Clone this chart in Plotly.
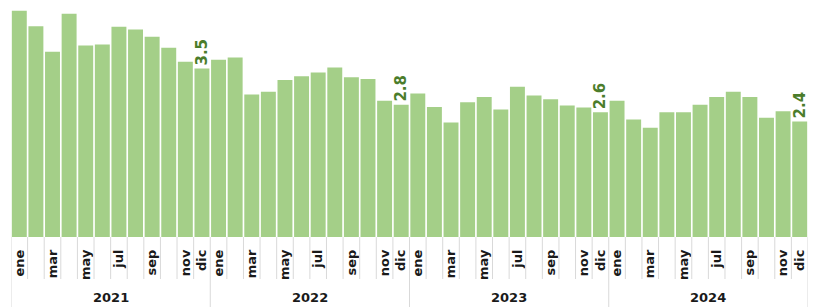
import plotly.graph_objects as go

years = ["2021", "2022", "2023", "2024"]
months = ["ene", "feb", "mar", "abr", "may", "jun", "jul", "ago", "sep", "oct", "nov", "dic"]
shown_months = ["ene", "mar", "may", "jul", "sep", "nov", "dic"]

values_2021 = [4.70, 4.38, 3.85, 4.64, 3.98, 4.00, 4.37, 4.31, 4.16, 3.93, 3.64, 3.50]
values_2022 = [3.68, 3.73, 2.96, 3.02, 3.26, 3.34, 3.42, 3.52, 3.32, 3.28, 2.83, 2.75]
values_2023 = [2.98, 2.70, 2.38, 2.80, 2.91, 2.65, 3.12, 2.94, 2.86, 2.73, 2.69, 2.59]
values_2024 = [2.83, 2.44, 2.27, 2.59, 2.59, 2.75, 2.91, 3.02, 2.91, 2.48, 2.61, 2.40]
dic_labels = ["3.5", "2.8", "2.6", "2.4"]

series = [values_2021, values_2022, values_2023, values_2024]
values = [v for s in series for v in s]
n = len(values)
xs = list(range(n))

texts = []
for yi, s in enumerate(series):
    for mi in range(len(s)):
        texts.append(dic_labels[yi] if mi == 11 else "")

tickvals, ticktext = [], []
for yi in range(len(years)):
    for mi, m in enumerate(months):
        if m in shown_months:
            tickvals.append(yi * 12 + mi)
            ticktext.append(m)

BAR = "#a4cf88"
LABEL = "#4b7d2b"
GRID = "#d9d9d9"

fig = go.Figure(go.Bar(
    x=xs, y=values, marker=dict(color=BAR, line=dict(width=0)),
    text=texts, textposition="outside", textangle=-90,
    constraintext="none", cliponaxis=False,
    textfont=dict(family="DejaVu Sans", size=15, color=LABEL, weight="bold"),
    hoverinfo="skip",
))

plot_h = 232
bottom = 70
month_line = -(42 / plot_h)
year_line = -(bottom / plot_h)

shapes = []
for i in range(n + 1):
    xb = i - 0.5
    is_year = (i % 12 == 0)
    shapes.append(dict(type="line", xref="x", yref="paper", x0=xb, x1=xb,
                       y0=0, y1=year_line if is_year else month_line,
                       line=dict(color=GRID, width=1)))

annotations = []
for yi, y in enumerate(years):
    annotations.append(dict(x=yi * 12 + 5.5, y=-(60 / plot_h), xref="x", yref="paper",
                            text=y, showarrow=False, yanchor="middle",
                            font=dict(family="DejaVu Sans", size=13, color="#1a1a1a", weight="bold")))

fig.update_layout(
    width=813, height=307,
    margin=dict(l=11, r=5, t=5, b=bottom, autoexpand=False),
    paper_bgcolor="white", plot_bgcolor="white",
    bargap=0.1, showlegend=False,
    shapes=shapes, annotations=annotations,
    xaxis=dict(range=[-0.5, n - 0.5], tickvals=tickvals, ticktext=ticktext,
               tickangle=-90, ticks="", showgrid=False, zeroline=False,
               showline=False, ticklabelstandoff=9, automargin=False,
               tickfont=dict(family="DejaVu Sans", size=13, color="#1a1a1a", weight="bold")),
    yaxis=dict(range=[0, 4.82], visible=False, showgrid=False, automargin=False),
)

fig.write_html("out.html", config={"displayModeBar": False},
               post_script="document.body.style.margin='0';document.body.style.overflow='hidden';")
